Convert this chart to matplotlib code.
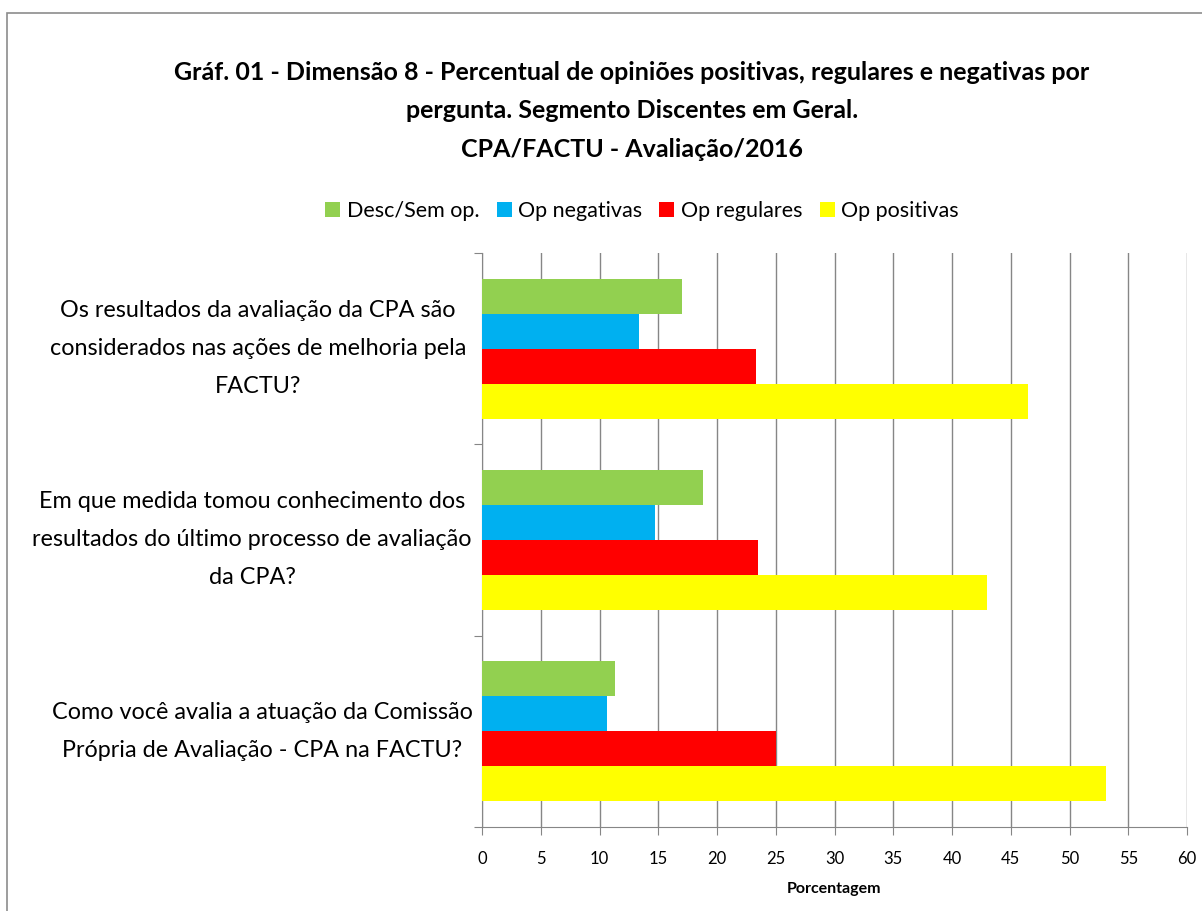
import numpy as np
import matplotlib.pyplot as plt
from matplotlib.patches import Rectangle
from matplotlib.transforms import blended_transform_factory

plt.rcParams['font.family'] = ['Lato', 'DejaVu Sans']

# categories (bottom to top, as drawn)
perguntas = [
    "Como você avalia a atuação da Comissão\nPrópria de Avaliação - CPA na FACTU?",
    "Em que medida tomou conhecimento dos\nresultados do último processo de avaliação\nda CPA?",
    "Os resultados da avaliação da CPA são\nconsiderados nas ações de melhoria pela\nFACTU?",
]
series = ["Desc/Sem op.", "Op negativas", "Op regulares", "Op positivas"]
cores = ["#92D050", "#00B0F0", "#FF0000", "#FFFF00"]

desc_sem_op = [11.3, 18.8, 17.0]
op_negativas = [10.65, 14.75, 13.35]
op_regulares = [25.05, 23.5, 23.3]
op_positivas = [53.1, 43.0, 46.5]
valores = [desc_sem_op, op_negativas, op_regulares, op_positivas]

titulo = ("Gráf. 01 - Dimensão 8 - Percentual de opiniões positivas, regulares e negativas por\n"
          "pergunta. Segmento Discentes em Geral.\nCPA/FACTU - Avaliação/2016")

fig = plt.figure(figsize=(12.02, 9.11), dpi=100)
ax = fig.add_axes([482/1202, 1-827/911, (1187-482)/1202, (827-253)/911])

# outer chart border
fig.patches.append(Rectangle((7/1202, -0.05), 1.2, 1-13/911+0.05, transform=fig.transFigure,
                             fill=False, edgecolor="#8c8c8c", linewidth=1.2))

y = np.arange(len(perguntas))
h = 0.183
offsets = [1.5*h, 0.5*h, -0.5*h, -1.5*h]
for vals, nome, cor, off in zip(valores, series, cores, offsets):
    ax.barh(y + off, vals, height=h, color=cor, label=nome, zorder=3)

ax.set_xlim(0, 60)
ax.set_ylim(-0.5, 2.5)
ax.set_xticks(np.arange(0, 61, 5))
ax.tick_params(axis='x', labelsize=12, length=6, color="#868686", pad=11)
ax.grid(axis='x', color="#868686", linewidth=1, zorder=0)

# category separators as ticks, labels placed as text blocks
ax.set_yticks([-0.5, 0.5, 1.5, 2.5])
ax.set_yticklabels([])
ax.tick_params(axis='y', which='major', length=6, color="#868686")
trans = blended_transform_factory(fig.transFigure, ax.transData)
centros_px = [262, 252, 258]  # horizontal centre of each label block
for yi, txt, cx in zip(y, perguntas, centros_px):
    ax.text(cx/1202, yi, txt, transform=trans, ha='center', va='center',
            multialignment='center', fontsize=16.8, linespacing=2.0)

for s in ['top', 'right']:
    ax.spines[s].set_visible(False)
for s in ['left', 'bottom']:
    ax.spines[s].set_color("#868686")

ax.set_xlabel("Porcentagem", fontsize=11.5, fontweight='bold', labelpad=11)

fig.text(632/1202, 1-111/911, titulo, ha='center', va='center', fontsize=18,
         fontweight='bold', linespacing=1.8)

ax.legend(loc='center', bbox_to_anchor=(642/1202, 1-211/911), bbox_transform=fig.transFigure,
          ncol=4, frameon=False, fontsize=15.5, handlelength=0.7, handleheight=0.7,
          handletextpad=0.3, columnspacing=0.8)

fig.savefig("out.png", dpi=100)
